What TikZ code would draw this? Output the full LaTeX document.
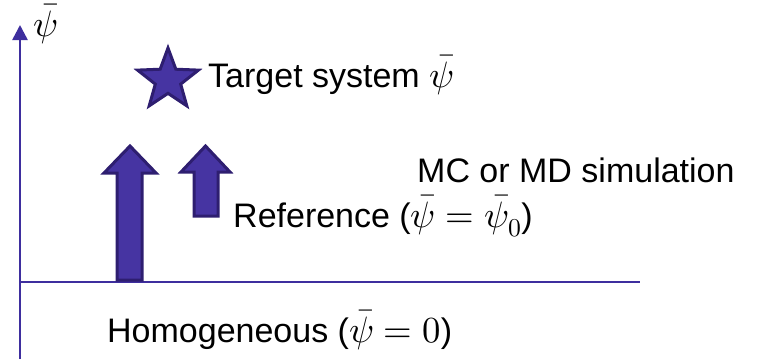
\documentclass[tikz,border=0pt]{standalone}
\usepackage{fontspec}
\usepackage{unicode-math}
\setmainfont{Liberation Sans}
\setmathfont{Latin Modern Math}[Scale=1.08]
\usetikzlibrary{arrows.meta,shapes.geometric}
\definecolor{axiscol}{RGB}{62,46,158}
\definecolor{arrfill}{RGB}{70,52,162}
\definecolor{arrdraw}{RGB}{46,30,112}
\tikzset{
  lbl/.style={anchor=base west, inner sep=0pt, font=\fontsize{34}{40}\selectfont},
  axisline/.style={draw=axiscol, line width=2.5pt},
  fatarrow/.style={fill=arrfill, draw=arrdraw, line width=3pt, line join=miter},
}
\begin{document}
\begin{tikzpicture}[x=1pt,y=-1pt]
\useasboundingbox (0,0) rectangle (781,359);
% axes
\coordinate (ybot) at (20,359);
\coordinate (ytop) at (20,25);
\coordinate (xl) at (20,282);
\coordinate (xr) at (640,282);
\draw[axisline, -{Triangle[length=15pt,width=15pt]}] (ybot) -- (ytop);
\draw[axisline] (xl) -- (xr);
\node[lbl] (psi) at (33,36) {$\bar\psi$};
% star
\node[star, star points=5, star point ratio=2.4, minimum size=64pt, inner sep=0pt,
      fill=arrfill, draw=arrdraw, line width=3pt] (star) at (168,80) {};
\node[lbl] (target) at (208,87) {Target system $\bar\psi$};
% big arrow
\path[fatarrow] (117,280) -- (117,173) -- (104,173) -- (130,146) -- (156,173) -- (142,173) -- (142,280) -- cycle;
% small arrow
\path[fatarrow] (194,216) -- (194,172) -- (181,172) -- (205.5,146) -- (230,172) -- (218,172) -- (218,216) -- cycle;
\node[lbl] (mc) at (417,182) {MC or MD simulation};
\node[lbl] (ref) at (233,227) {Reference ($\bar\psi=\bar\psi_0$)};
\node[lbl] (hom) at (107,342) {Homogeneous ($\bar\psi=0$)};
\end{tikzpicture}
\end{document}
